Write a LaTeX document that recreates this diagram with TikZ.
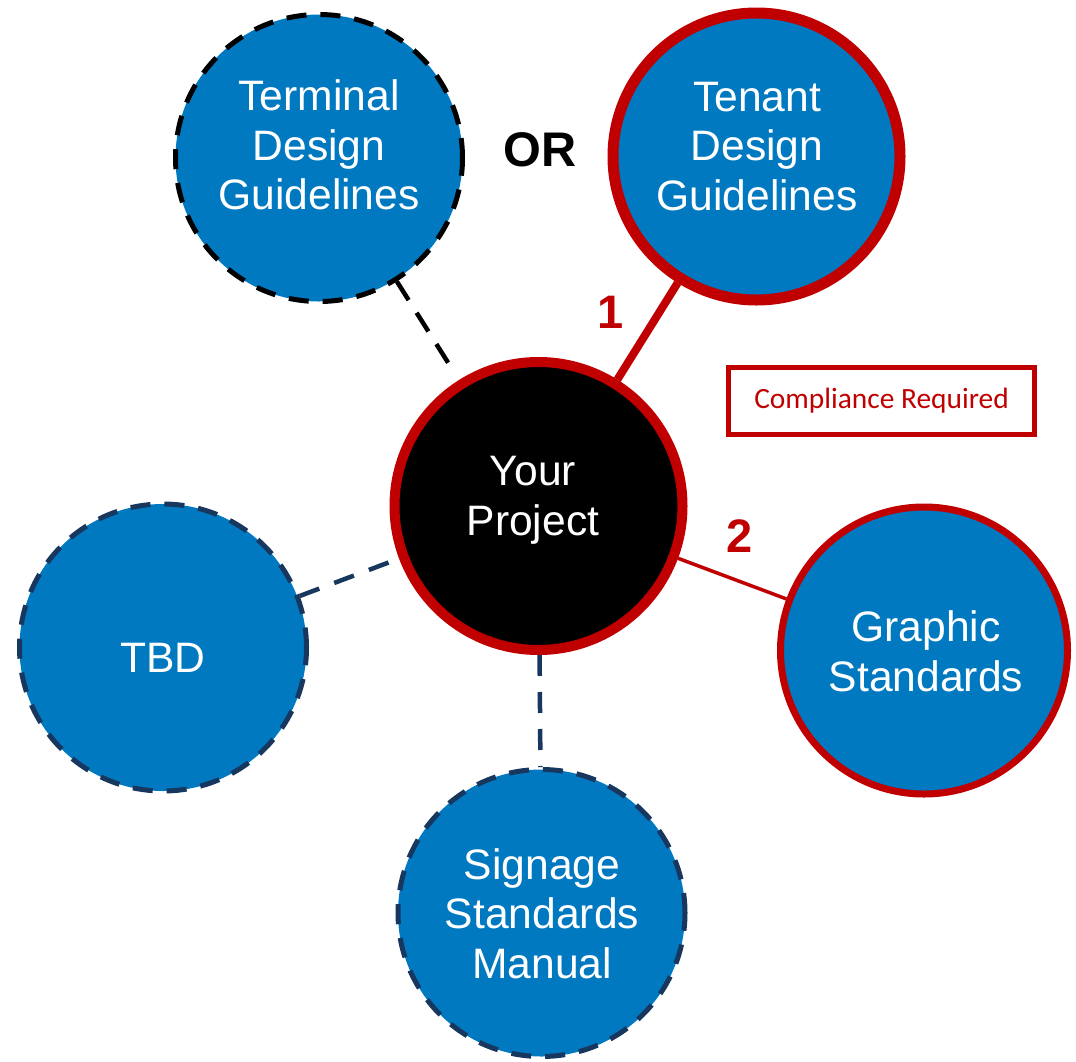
\documentclass[tikz,border=0pt]{standalone}
\usepackage{fontspec}
\setmainfont{Liberation Sans}
\newfontfamily\calibri{Carlito}

\definecolor{bubbleblue}{RGB}{0,121,193}
\definecolor{reqred}{RGB}{192,0,0}
\definecolor{navy}{RGB}{23,55,94}

\begin{document}
\begin{tikzpicture}[x=0.5pt,y=-0.5pt,
    bubble/.style={circle,fill=bubbleblue,minimum size=143.5pt,inner sep=0pt},
    optional/.style={bubble,draw=black,line width=2.5pt,dash pattern=on 10pt off 7pt},
    optnavy/.style={bubble,draw=navy,line width=2.5pt,dash pattern=on 10pt off 7pt},
    required/.style={bubble,draw=reqred,line width=5.5pt},
    btext/.style={align=center,text=white,text depth=0pt,inner sep=0pt,
        font=\fontsize{21.3}{24.75}\selectfont},
    bignum/.style={text=reqred,font=\fontsize{23.5}{28}\selectfont\bfseries}]
    \useasboundingbox (0,0) rectangle (1076,1061);

    \node[required,fill=black,minimum size=144pt,line width=5pt] (proj) at (538.5,506) {};
    \node[optional] (term) at (319,158) {};
    \node[required] (tenant) at (756.5,156.5) {};
    \node[optnavy] (tbd) at (163,647.5) {};
    \node[optnavy] (sign) at (541.5,913) {};
    \node[required,line width=3.5pt] (graph) at (924,650.5) {};

    \node[btext] (projtxt) at (533,496) {Your\\Project};
    \node[btext] (termtxt) at (319,145) {Terminal\\Design\\Guidelines};
    \node[btext] (tenanttxt) at (757,146) {Tenant\\Design\\Guidelines};
    \node[btext] (tbdtxt) at (163,658) {TBD};
    \node[btext] (signtxt) at (542,913.5) {Signage\\Standards\\Manual};
    \node[btext] (graphtxt) at (926,651) {Graphic\\Standards};

    \draw[black,line width=2.25pt,dash pattern=on 11pt off 7.5pt,shorten >=6pt] (term) -- (proj);
    \draw[reqred,line width=4pt] (tenant) -- (proj);
    \draw[reqred,line width=1.75pt] (proj) -- (graph);
    \draw[navy,line width=2.25pt,dash pattern=on 10.5pt off 8pt] (tbd) -- (proj);
    \draw[navy,line width=2.25pt,dash pattern=on 10.5pt off 8pt] (proj) -- (sign);

    \node[font=\fontsize{24.3}{28}\selectfont\bfseries] (or) at (540,150) {OR};
    \node[bignum] (one) at (611,312) {1};
    \node[bignum] (two) at (740,536) {2};

    \node[draw=reqred,line width=2.5pt,text=reqred,minimum width=153pt,minimum height=33.5pt,
        font=\calibri\fontsize{14.7}{18}\selectfont] (comply) at (881.5,401) {Compliance Required};
\end{tikzpicture}
\end{document}
